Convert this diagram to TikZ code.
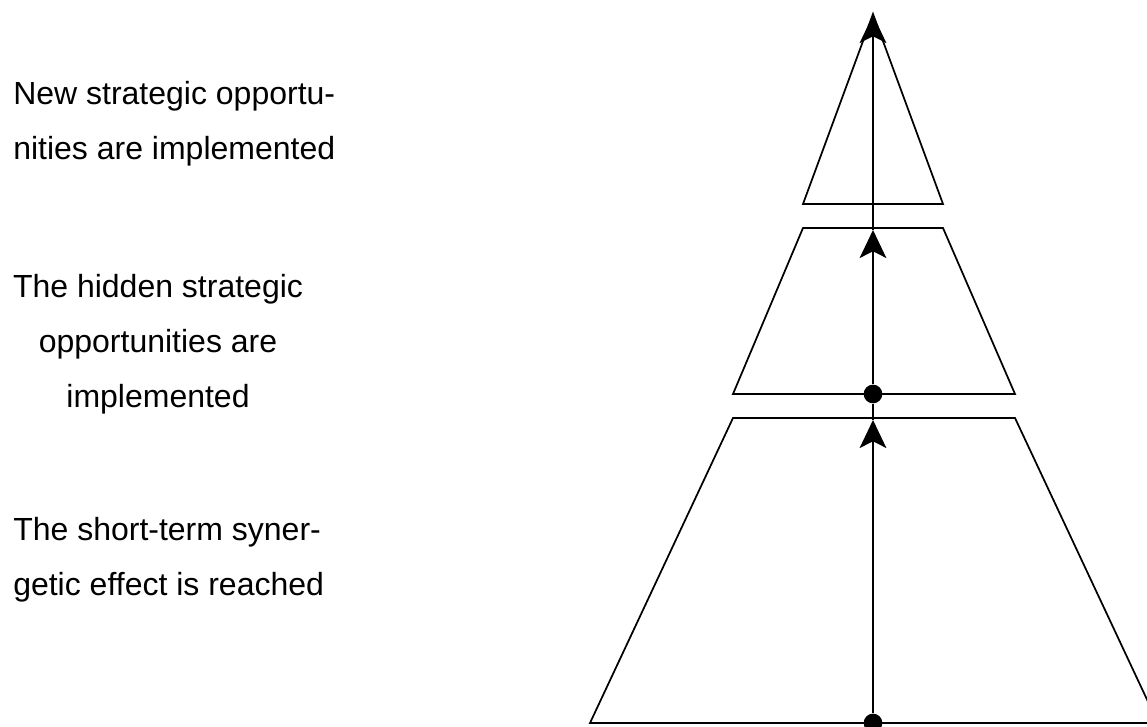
\documentclass[tikz,border=0pt]{standalone}
\usepackage{fontspec}
\setmainfont{Liberation Sans}[Ligatures=NoCommon]
\usetikzlibrary{arrows.meta}
\usetikzlibrary{positioning}
\tikzset{
  layer/.style={line width=1.3pt},
  riser/.style={line width=1.3pt,-{Stealth[length=21pt,width=20pt,inset=5pt]}},
  joint/.style={circle,fill=black,inner sep=0pt,minimum size=14pt},
  caption/.style={inner sep=0pt,font=\fontsize{24}{41.25}\selectfont}
}

\begin{document}
\begin{tikzpicture}[x=0.75pt,y=0.75pt,yscale=-1,xscale=1]
  \clip (0,0) rectangle (1147,727); %page of 1147 x 727
  %Triangle [top]
  \draw [layer] (803,204) -- (873,14) -- (943,204) -- cycle;
  %Trapezoid [middle]
  \draw [layer] (803,228) -- (943,228) -- (1015,394) -- (733,394) -- cycle;
  %Trapezoid [bottom]
  \draw [layer] (733,418) -- (1015,418) -- (1158,723) -- (590,723) -- cycle;

  %Joints and tips
  \node [joint] (lowjoint) at (873,723) {};
  \node [joint] (midjoint) at (873,394) {};
  \coordinate (lowtip) at (873,420);
  \coordinate (midtip) at (873,230);
  \coordinate (apex) at (873,15);

  %Straight Lines
  \draw [riser] (lowjoint) -- (lowtip);
  \draw [layer] (lowtip) -- (midjoint);
  \draw [riser] (midjoint) -- (midtip);
  \draw [riser] (midtip) -- (apex);

  % Text Node (base = last line)
  \node [caption, anchor=base west, align=left] (newopp) at (13,160) {New strategic opportu-\\nities are implemented};
  % Text Node
  \node [caption, anchor=base, align=center] (hiddenopp) at (158,408) {The hidden strategic\\opportunities are\\implemented};
  % Text Node
  \node [caption, anchor=base west, align=left] (synergy) at (13,595) {The short-term syner-\\getic effect is reached};
\end{tikzpicture}
\end{document}
